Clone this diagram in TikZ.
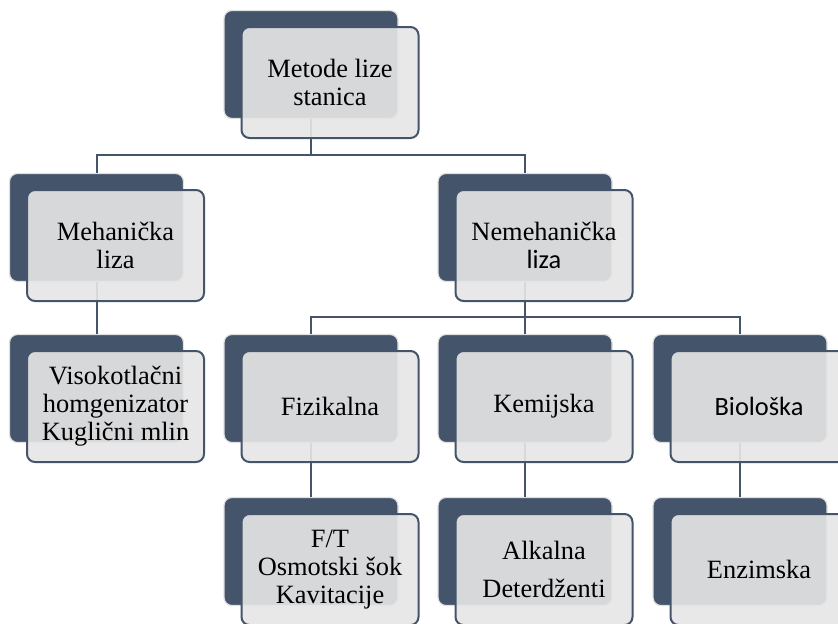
\documentclass[tikz,border=0pt]{standalone}
\usepackage{fontspec}
\setmainfont{Liberation Serif}
\newfontfamily\sanslabel{Carlito}
\usetikzlibrary{calc}
\definecolor{slate}{HTML}{44546A}
\definecolor{boxgray}{HTML}{E6E6E6}
\tikzset{
  back/.style={fill=slate,draw=black!12,line width=.6pt,
    rounded corners=4pt,minimum width=87pt,minimum height=54pt,
    inner sep=0pt},
  front/.style={fill=boxgray,fill opacity=.91,text opacity=1,
    draw=slate,line width=1pt,rounded corners=4pt,
    minimum width=88.5pt,minimum height=55.5pt,inner sep=0pt,
    align=center,font=\fontsize{13.2}{14}\selectfont},
  conn/.style={draw=slate,line width=1pt}
}
\begin{document}
\begin{tikzpicture}[x=.5pt,y=-.5pt]
\useasboundingbox (0,0) rectangle (838,623);
\clip (0,0) rectangle (838,623);
\node[back] (metode) at (311,64.5) {};
\node[back] (meh) at (96.5,227.5) {};
\node[back] (nemeh) at (525,227.5) {};
\node[back] (visok) at (96.5,388.5) {};
\node[back] (fiz) at (311,388.5) {};
\node[back] (kem) at (525,388.5) {};
\node[back] (bio) at (740,388.5) {};
\node[back] (ft) at (311,551.5) {};
\node[back] (alk) at (525,551.5) {};
\node[back] (enz) at (740,551.5) {};
\coordinate (bus1) at (311,155);
\coordinate (bus2) at (525,317);
\draw[conn] (metode.south) -- (bus1) -| (meh.north);
\draw[conn] (bus1) -| (nemeh.north);
\draw[conn] (meh.south) -- (visok.north);
\draw[conn] (nemeh.south) -- (bus2) -- (kem.north);
\draw[conn] (bus2) -| (fiz.north);
\draw[conn] (bus2) -| (bio.north);
\draw[conn] (fiz.south) -- (ft.north);
\draw[conn] (kem.south) -- (alk.north);
\draw[conn] (bio.south) -- (enz.north);
\node[front] (metodeF) at ($(metode)+(19,18)$) {Metode lize\\stanica};
\node[front] (mehF) at ($(meh)+(19,18)$) {Mehanička\\liza};
\node[front] (nemehF) at ($(nemeh)+(19,18)$)
  {Nemehanička\\{\sanslabel liza}};
\node[front] (visokF) at ($(visok)+(19,18)$)
  {Visokotlačni\\homgenizator\\Kuglični mlin};
\node[front] (fizF) at ($(fiz)+(19,18)$) {Fizikalna};
\node[front] (kemF) at ($(kem)+(19,18)$) {Kemijska};
\node[front] (bioF) at ($(bio)+(19,18)$) {\sanslabel Biološka};
\node[front] (ftF) at ($(ft)+(19,18)$)
  {F/T\\Osmotski šok\\Kavitacije};
\node[front] (alkF) at ($(alk)+(19,18)$) {Alkalna\\[5pt]Deterdženti};
\node[front] (enzF) at ($(enz)+(19,18)$) {Enzimska};
\end{tikzpicture}
\end{document}
